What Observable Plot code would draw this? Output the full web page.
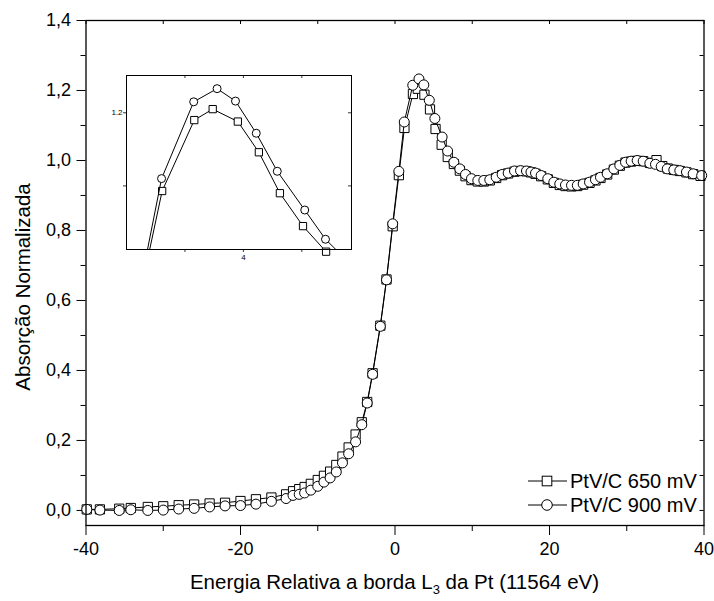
<!DOCTYPE html>
<html><head><meta charset="utf-8">
<script src="https://cdn.jsdelivr.net/npm/d3@7"></script>
<script src="https://cdn.jsdelivr.net/npm/@observablehq/plot@0.6"></script>
<style>
body{margin:0;background:#fff}
#wrap{position:relative;width:714px;height:601px}
#inset{position:absolute;left:106px;top:73px}
</style>
</head><body><div id="wrap"></div>
<script>
// ---------- data ----------
const seriesNames = ["PtV/C 650 mV", "PtV/C 900 mV"];

// PtV/C 650 mV (squares)
const xA = [-39.9,-38.2,-35.7,-34.2,-32.0,-30.0,-28.0,-26.0,-24.0,-22.0,-20.0,-18.0,-16.0,-14.1,-13.2,-12.4,-11.7,-10.9,-10.0,-9.2,-8.4,-7.6,-6.8,-6.0,-5.1,-4.3,-3.6,-2.9,-1.9,-1.1,-0.3,0.5,
  1.22,2.32,2.95,3.81,4.53,5.25,6.04,6.83,
  7.62,8.39,9.13,9.90,10.72,11.50,12.27,13.10,13.87,14.65,15.47,16.25,17.02,17.6,18.19,18.92,19.78,20.56,21.33,22.07,22.85,23.6,24.36,25.18,25.95,26.60,27.47,28.33,29.10,29.84,30.57,31.35,32.13,32.99,33.85,34.6,35.3,36.09,36.87,37.73,38.60,39.55];
const yA = [0.003,0.003,0.005,0.007,0.010,0.012,0.015,0.017,0.020,0.022,0.027,0.032,0.037,0.046,0.055,0.061,0.067,0.076,0.087,0.099,0.111,0.130,0.154,0.180,0.217,0.252,0.310,0.392,0.528,0.660,0.812,0.958,
  1.093,1.190,1.205,1.188,1.146,1.090,1.045,1.010,
  0.990,0.971,0.955,0.944,0.940,0.940,0.943,0.950,0.958,0.963,0.968,0.970,0.969,0.966,0.962,0.955,0.946,0.936,0.930,0.927,0.926,0.927,0.931,0.936,0.943,0.950,0.960,0.974,0.985,0.994,0.997,0.999,0.998,0.993,1.001,0.984,0.977,0.973,0.970,0.966,0.961,0.956];

// PtV/C 900 mV (circles)
const xB = [-39.9,-38.2,-35.7,-34.2,-32.0,-30.0,-28.0,-26.0,-24.0,-22.0,-20.0,-18.0,-16.0,-14.1,-13.2,-12.4,-11.7,-10.9,-10.0,-9.2,-8.4,-7.6,-6.8,-6.0,-5.1,-4.3,-3.6,-2.9,-1.9,-1.1,-0.3,0.5,
  1.20,2.30,3.10,3.73,4.44,5.16,6.10,6.81,
  7.62,8.39,9.13,9.90,10.72,11.50,12.27,13.10,13.87,14.65,15.47,16.25,17.02,17.6,18.19,18.92,19.78,20.56,21.33,22.07,22.85,23.6,24.36,25.18,25.95,26.60,27.47,28.33,29.10,29.84,30.57,31.35,32.13,32.99,33.72,34.46,35.24,36.09,36.87,37.73,38.60,39.70];
const yB = [0.003,0.001,0.000,0.002,0.000,0.001,0.004,0.006,0.010,0.013,0.014,0.018,0.026,0.034,0.043,0.046,0.050,0.058,0.069,0.081,0.093,0.110,0.136,0.162,0.196,0.245,0.307,0.389,0.526,0.659,0.819,0.969,
  1.110,1.215,1.233,1.216,1.172,1.120,1.067,1.027,
  0.995,0.976,0.960,0.948,0.943,0.943,0.945,0.952,0.960,0.964,0.970,0.971,0.970,0.967,0.964,0.957,0.948,0.938,0.933,0.930,0.929,0.929,0.933,0.938,0.945,0.952,0.962,0.976,0.986,0.995,0.998,1.000,0.998,0.992,0.989,0.983,0.976,0.973,0.971,0.967,0.962,0.957];

// ticks
const xMajor = [-40,-20,0,20,40];
const xMinor = [-30,-10,10,30];
const xAll = [-40,-30,-20,-10,0,10,20,30,40];
const yMajor = [0,0.2,0.4,0.6,0.8,1.0,1.2,1.4];
const yMinor = [0.1,0.3,0.5,0.7,0.9,1.1,1.3];
const yAll = [0,0.1,0.2,0.3,0.4,0.5,0.6,0.7,0.8,0.9,1.0,1.1,1.2,1.3,1.4];
const insetXTicks = [2,4,6];
const insetXLabels = [4];
const insetYTicks = [1.1,1.2];
const insetYLabels = [1.2];

const A = xA.map((x,i)=>({x, y:yA[i]}));
const B = xB.map((x,i)=>({x, y:yB[i]}));

// ---------- main chart ----------
const W=714, H=601, ML=85.5, MR=10.5, MT=20, MB=76;
const FW=W-ML-MR, FH=H-MT-MB;
const font = "Liberation Sans, Arial, Helvetica, sans-serif";

const chart = Plot.plot({
  width: W, height: H, marginLeft: ML, marginRight: MR, marginTop: MT, marginBottom: MB,
  style: {fontFamily: font, fontSize: "18px", color: "black", background: "white"},
  x: {domain: [-40, 40]},
  y: {domain: [-0.043, 1.4]},
  marks: [
    Plot.ruleX(xAll, {insetBottom: FH-4, stroke: "black"}),
    Plot.ruleY(yAll, {insetLeft: FW-4, stroke: "black"}),
    Plot.axisX({ticks: xMajor, tickSize: 10, tickPadding: 7, tickFormat: d => String(d), label: null, fontSize: 18}),
    Plot.axisX({ticks: xMinor, tickSize: 6, tickFormat: () => "", label: null}),
    Plot.axisY({ticks: yMajor, tickSize: 9, tickPadding: 6, tickFormat: d => d.toFixed(1).replace(".", ","), label: null, fontSize: 18}),
    Plot.axisY({ticks: yMinor, tickSize: 5, tickFormat: () => "", label: null}),
    Plot.line(A, {x: "x", y: "y", stroke: "black", strokeWidth: 1}),
    Plot.dot(A, {x: "x", y: "y", symbol: "square", r: 5.2, fill: "white", stroke: "black", strokeWidth: 1}),
    Plot.line(B, {x: "x", y: "y", stroke: "black", strokeWidth: 1}),
    Plot.dot(B, {x: "x", y: "y", symbol: "circle", r: 5, fill: "white", stroke: "black", strokeWidth: 1}),
    Plot.frame({stroke: "black", strokeWidth: 1.3})
  ]
});

const svg = d3.select(chart);
svg.append("text")
  .attr("transform", `translate(30,287) rotate(-90)`)
  .attr("text-anchor", "middle").attr("font-size", 20.5).attr("fill", "black")
  .text("Absorção Normalizada");
const xl = svg.append("text")
  .attr("x", ML+FW/2).attr("y", 589)
  .attr("text-anchor", "middle").attr("font-size", 20.5).attr("fill", "black");
xl.append("tspan").text("Energia Relativa a borda L");
xl.append("tspan").attr("font-size", 13).attr("dy", 5).text("3");
xl.append("tspan").attr("dy", -5).text(" da Pt (11564 eV)");

// legend
const leg = svg.append("g").attr("font-size", 20).attr("fill", "black").attr("text-anchor", "start");
[[0, "square"], [1, "circle"]].forEach(([i, sym]) => {
  const base = 488 + i*24;
  const cy = base - 7;
  leg.append("line").attr("x1", 528).attr("x2", 567).attr("y1", cy).attr("y2", cy).attr("stroke", "black").attr("stroke-width", 1);
  if (sym === "square") leg.append("rect").attr("x", 547-4.8).attr("y", cy-4.8).attr("width", 9.6).attr("height", 9.6).attr("fill", "white").attr("stroke", "black");
  else leg.append("circle").attr("cx", 547).attr("cy", cy).attr("r", 5.3).attr("fill", "white").attr("stroke", "black");
  leg.append("text").attr("x", 570).attr("y", base).attr("text-anchor", "start").text(seriesNames[i]);
});

document.getElementById("wrap").appendChild(chart);

// ---------- inset ----------
const IW=247, IH=190, IML=20, IMR=2, IMT=2, IMB=14;
const IFW=IW-IML-IMR, IFH=IH-IMT-IMB;
const xd=[0,7.7], yd=[1.013,1.251];
const inDom = d => d.x>=xd[0]-0.1 && d.x<=xd[1]+0.1 && d.y>=yd[0]-0.005 && d.y<=yd[1];
const inset = Plot.plot({
  width: IW, height: IH, marginLeft: IML, marginRight: IMR, marginTop: IMT, marginBottom: IMB,
  style: {fontFamily: font, fontSize: "8px", color: "black", background: "white", overflow: "visible"},
  x: {domain: xd},
  y: {domain: yd},
  marks: [
    Plot.ruleX(insetXTicks, {insetBottom: IFH-3, stroke: "black", strokeWidth: 0.8}),
    Plot.ruleY(insetYTicks, {insetLeft: IFW-3, stroke: "black", strokeWidth: 0.8}),
    Plot.axisX({ticks: insetXTicks, tickSize: 3, tickPadding: 2, tickFormat: d => insetXLabels.includes(d) ? String(d) : "", label: null, strokeWidth: 0.8}),
    Plot.axisY({ticks: insetYTicks, tickSize: 3, tickPadding: 1, tickFormat: d => insetYLabels.includes(d) ? d.toFixed(1) : "", label: null, strokeWidth: 0.8}),
    Plot.line(A, {x: "x", y: "y", stroke: "black", strokeWidth: 1, clip: true}),
    Plot.dot(A.filter(inDom), {x: "x", y: "y", symbol: "square", r: 4.1, fill: "white", stroke: "black", strokeWidth: 1}),
    Plot.line(B, {x: "x", y: "y", stroke: "black", strokeWidth: 1, clip: true}),
    Plot.dot(B.filter(inDom), {x: "x", y: "y", symbol: "circle", r: 4, fill: "white", stroke: "black", strokeWidth: 1}),
    Plot.frame({stroke: "black", strokeWidth: 1})
  ]
});
inset.id = "inset";
document.getElementById("wrap").appendChild(inset);
</script>
</body></html>
